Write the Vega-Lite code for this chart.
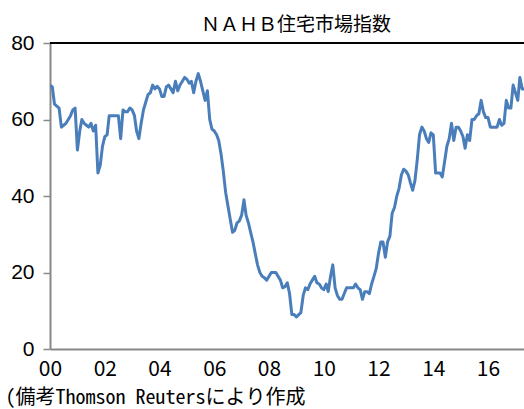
{
  "$schema": "https://vega.github.io/schema/vega-lite/v6.json",
  "autosize": "none",
  "width": 474,
  "height": 306,
  "padding": {"left": 50, "top": 43, "right": 0, "bottom": 60},
  "background": "white",
  "config": {"view": {"stroke": null}},
  "title": {
    "text": "ＮＡＨＢ住宅市場指数",
    "font": "Noto Sans CJK JP",
    "fontSize": 19,
    "fontWeight": "normal",
    "color": "black",
    "anchor": "middle",
    "dx": 9,
    "dy": 29,
    "baseline": "alphabetic",
    "offset": 11
  },
  "data": {"values": [
    {"d":"2000-01-01","v":69},{"d":"2000-02-01","v":68.5},{"d":"2000-03-01","v":64},{"d":"2000-04-01","v":63.5},{"d":"2000-05-01","v":63},{"d":"2000-06-01","v":58},{"d":"2000-07-01","v":58.5},{"d":"2000-08-01","v":59},{"d":"2000-09-01","v":60},{"d":"2000-10-01","v":61},{"d":"2000-11-01","v":62.5},{"d":"2000-12-01","v":63},
    {"d":"2001-01-01","v":52},{"d":"2001-02-01","v":57},{"d":"2001-03-01","v":60},{"d":"2001-04-01","v":59},{"d":"2001-05-01","v":58.5},{"d":"2001-06-01","v":58},{"d":"2001-07-01","v":59},{"d":"2001-08-01","v":57},{"d":"2001-09-01","v":58.5},{"d":"2001-10-01","v":46},{"d":"2001-11-01","v":48},{"d":"2001-12-01","v":53},
    {"d":"2002-01-01","v":55.5},{"d":"2002-02-01","v":56},{"d":"2002-03-01","v":61},{"d":"2002-04-01","v":61},{"d":"2002-05-01","v":61},{"d":"2002-06-01","v":61},{"d":"2002-07-01","v":61},{"d":"2002-08-01","v":55},{"d":"2002-09-01","v":62.5},{"d":"2002-10-01","v":62},{"d":"2002-11-01","v":62},{"d":"2002-12-01","v":63},
    {"d":"2003-01-01","v":62.5},{"d":"2003-02-01","v":61},{"d":"2003-03-01","v":57},{"d":"2003-04-01","v":55},{"d":"2003-05-01","v":59},{"d":"2003-06-01","v":62.5},{"d":"2003-07-01","v":64.5},{"d":"2003-08-01","v":66.5},{"d":"2003-09-01","v":67},{"d":"2003-10-01","v":69},{"d":"2003-11-01","v":68},{"d":"2003-12-01","v":68.7},
    {"d":"2004-01-01","v":68},{"d":"2004-02-01","v":66},{"d":"2004-03-01","v":66},{"d":"2004-04-01","v":68.5},{"d":"2004-05-01","v":69},{"d":"2004-06-01","v":68},{"d":"2004-07-01","v":67},{"d":"2004-08-01","v":70},{"d":"2004-09-01","v":67.5},{"d":"2004-10-01","v":69},{"d":"2004-11-01","v":70},{"d":"2004-12-01","v":71},
    {"d":"2005-01-01","v":70.5},{"d":"2005-02-01","v":69.5},{"d":"2005-03-01","v":70},{"d":"2005-04-01","v":67},{"d":"2005-05-01","v":70},{"d":"2005-06-01","v":72},{"d":"2005-07-01","v":70},{"d":"2005-08-01","v":67.5},{"d":"2005-09-01","v":65},{"d":"2005-10-01","v":67.5},{"d":"2005-11-01","v":60},{"d":"2005-12-01","v":57.5},
    {"d":"2006-01-01","v":57},{"d":"2006-02-01","v":56},{"d":"2006-03-01","v":54.5},{"d":"2006-04-01","v":51},{"d":"2006-05-01","v":46.5},{"d":"2006-06-01","v":41},{"d":"2006-07-01","v":37.5},{"d":"2006-08-01","v":34},{"d":"2006-09-01","v":30.5},{"d":"2006-10-01","v":31},{"d":"2006-11-01","v":33},{"d":"2006-12-01","v":33.5},
    {"d":"2007-01-01","v":35},{"d":"2007-02-01","v":39},{"d":"2007-03-01","v":35},{"d":"2007-04-01","v":33},{"d":"2007-05-01","v":30.5},{"d":"2007-06-01","v":28},{"d":"2007-07-01","v":25},{"d":"2007-08-01","v":22},{"d":"2007-09-01","v":20},{"d":"2007-10-01","v":19},{"d":"2007-11-01","v":18.6},{"d":"2007-12-01","v":18},
    {"d":"2008-01-01","v":19},{"d":"2008-02-01","v":20},{"d":"2008-03-01","v":20},{"d":"2008-04-01","v":20},{"d":"2008-05-01","v":19},{"d":"2008-06-01","v":18},{"d":"2008-07-01","v":16},{"d":"2008-08-01","v":16.3},{"d":"2008-09-01","v":17.3},{"d":"2008-10-01","v":14.5},{"d":"2008-11-01","v":9},{"d":"2008-12-01","v":9},
    {"d":"2009-01-01","v":8.4},{"d":"2009-02-01","v":9},{"d":"2009-03-01","v":9.5},{"d":"2009-04-01","v":14},{"d":"2009-05-01","v":16},{"d":"2009-06-01","v":15.5},{"d":"2009-07-01","v":17},{"d":"2009-08-01","v":18},{"d":"2009-09-01","v":19},{"d":"2009-10-01","v":17.3},{"d":"2009-11-01","v":17},{"d":"2009-12-01","v":16},
    {"d":"2010-01-01","v":15.5},{"d":"2010-02-01","v":17},{"d":"2010-03-01","v":15},{"d":"2010-04-01","v":19},{"d":"2010-05-01","v":22},{"d":"2010-06-01","v":16},{"d":"2010-07-01","v":14},{"d":"2010-08-01","v":13},{"d":"2010-09-01","v":13},{"d":"2010-10-01","v":14.5},{"d":"2010-11-01","v":16},{"d":"2010-12-01","v":16},
    {"d":"2011-01-01","v":16},{"d":"2011-02-01","v":16},{"d":"2011-03-01","v":17},{"d":"2011-04-01","v":16},{"d":"2011-05-01","v":15.5},{"d":"2011-06-01","v":13},{"d":"2011-07-01","v":15},{"d":"2011-08-01","v":15},{"d":"2011-09-01","v":14.5},{"d":"2011-10-01","v":17},{"d":"2011-11-01","v":19},{"d":"2011-12-01","v":21},
    {"d":"2012-01-01","v":25},{"d":"2012-02-01","v":28},{"d":"2012-03-01","v":28},{"d":"2012-04-01","v":24},{"d":"2012-05-01","v":28},{"d":"2012-06-01","v":29.5},{"d":"2012-07-01","v":35.5},{"d":"2012-08-01","v":37},{"d":"2012-09-01","v":40},{"d":"2012-10-01","v":42},{"d":"2012-11-01","v":45.5},{"d":"2012-12-01","v":47},
    {"d":"2013-01-01","v":46.5},{"d":"2013-02-01","v":45.5},{"d":"2013-03-01","v":43.5},{"d":"2013-04-01","v":41.5},{"d":"2013-05-01","v":44},{"d":"2013-06-01","v":49.5},{"d":"2013-07-01","v":56},{"d":"2013-08-01","v":58},{"d":"2013-09-01","v":57},{"d":"2013-10-01","v":55},{"d":"2013-11-01","v":54},{"d":"2013-12-01","v":56.5},
    {"d":"2014-01-01","v":56},{"d":"2014-02-01","v":46},{"d":"2014-03-01","v":46},{"d":"2014-04-01","v":46},{"d":"2014-05-01","v":45},{"d":"2014-06-01","v":49},{"d":"2014-07-01","v":53},{"d":"2014-08-01","v":55},{"d":"2014-09-01","v":59},{"d":"2014-10-01","v":54.5},{"d":"2014-11-01","v":58},{"d":"2014-12-01","v":58},
    {"d":"2015-01-01","v":57},{"d":"2015-02-01","v":55.5},{"d":"2015-03-01","v":52.5},{"d":"2015-04-01","v":56},{"d":"2015-05-01","v":54.5},{"d":"2015-06-01","v":60},{"d":"2015-07-01","v":60},{"d":"2015-08-01","v":61},{"d":"2015-09-01","v":61.5},{"d":"2015-10-01","v":65},{"d":"2015-11-01","v":62},{"d":"2015-12-01","v":60.5},
    {"d":"2016-01-01","v":60.5},{"d":"2016-02-01","v":58},{"d":"2016-03-01","v":58},{"d":"2016-04-01","v":58},{"d":"2016-05-01","v":58},{"d":"2016-06-01","v":60},{"d":"2016-07-01","v":58.5},{"d":"2016-08-01","v":59},{"d":"2016-09-01","v":65},{"d":"2016-10-01","v":63},{"d":"2016-11-01","v":63},{"d":"2016-12-01","v":69},
    {"d":"2017-01-01","v":67},{"d":"2017-02-01","v":65},{"d":"2017-03-01","v":71},{"d":"2017-04-01","v":68},{"d":"2017-05-01","v":68}
  ]},
  "layer": [
    {
      "mark": {"type": "line", "color": "#4a7ebb", "strokeWidth": 3, "clip": true, "strokeJoin": "round"},
      "encoding": {
        "x": {
          "field": "d",
          "type": "temporal",
          "scale": {"type": "utc", "domain": [{"year": 2000, "month": 1, "date": 1, "utc": true}, {"year": 2017, "month": 4, "date": 25, "utc": true}]},
          "axis": {
            "values": [
              {"year": 2000, "month": 1, "date": 1, "utc": true},
              {"year": 2002, "month": 1, "date": 1, "utc": true},
              {"year": 2004, "month": 1, "date": 1, "utc": true},
              {"year": 2006, "month": 1, "date": 1, "utc": true},
              {"year": 2008, "month": 1, "date": 1, "utc": true},
              {"year": 2010, "month": 1, "date": 1, "utc": true},
              {"year": 2012, "month": 1, "date": 1, "utc": true},
              {"year": 2014, "month": 1, "date": 1, "utc": true},
              {"year": 2016, "month": 1, "date": 1, "utc": true}
            ],
            "format": "%y",
            "grid": false,
            "ticks": false,
            "domainColor": "#888888",
            "domainWidth": 2,
            "labelFont": "Liberation Sans Narrow, Noto Sans CJK JP",
            "labelFontSize": 21,
            "labelColor": "black",
            "labelPadding": 9,
            "labelFlush": false,
            "labelOverlap": false,
            "title": "(備考Thomson Reutersにより作成",
            "titleFont": "Noto Sans Mono CJK JP, DejaVu Sans Mono, Noto Sans CJK JP",
            "titleFontSize": 20,
            "titleFontWeight": "normal",
            "titleColor": "black",
            "titleAnchor": "start",
            "titleAlign": "left",
            "titleBaseline": "alphabetic",
            "titleX": -45,
            "titleY": 54.5
          }
        },
        "y": {
          "field": "v",
          "type": "quantitative",
          "scale": {"domain": [0, 80], "nice": false, "zero": true},
          "axis": {
            "values": [0, 20, 40, 60, 80],
            "grid": false,
            "domainColor": "#888888",
            "domainWidth": 2,
            "tickColor": "#888888",
            "tickWidth": 1.5,
            "tickSize": 7,
            "labelFont": "Liberation Sans",
            "labelFontSize": 21,
            "labelColor": "black",
            "labelPadding": 9,
            "title": null
          }
        }
      }
    },
    {
      "mark": {"type": "rule", "color": "black", "strokeWidth": 2},
      "encoding": {"y": {"datum": 80, "type": "quantitative"}}
    }
  ]
}
